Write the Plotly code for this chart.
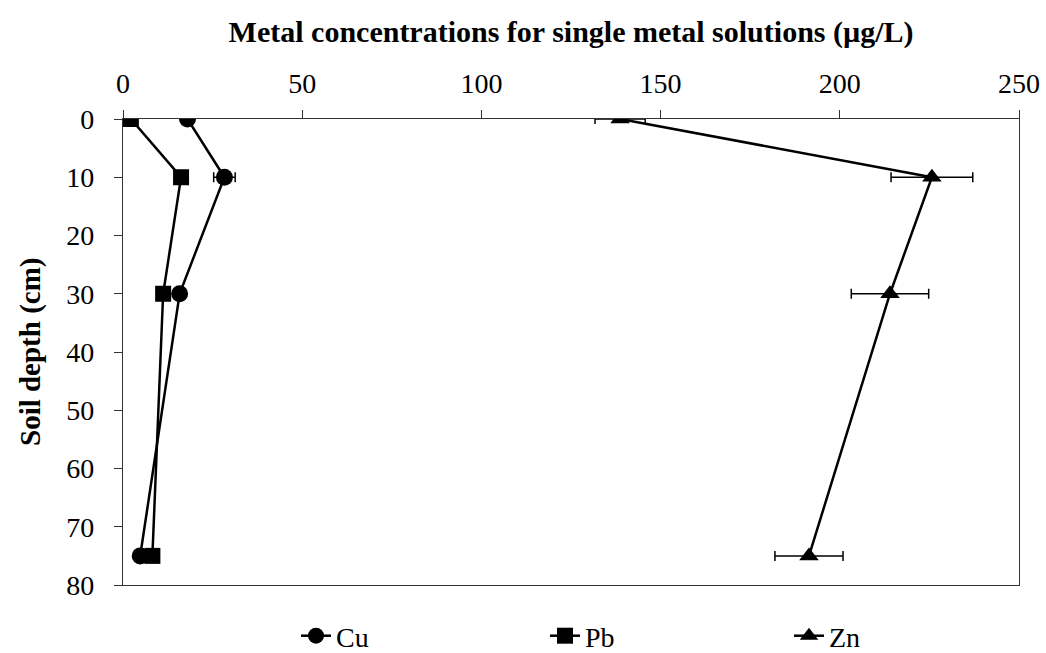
import plotly.graph_objects as go

depth = [0, 10, 30, 75]
cu = [18.0, 28.3, 15.8, 4.8]
pb = [2.2, 16.2, 11.2, 8.2]
zn = [138.7, 225.7, 214.0, 191.4]
cu_err = [0, 3.0, 0, 0]
zn_err = [7.0, 11.4, 10.8, 9.5]
x_ticks = [0, 50, 100, 150, 200, 250]
y_ticks = [0, 10, 20, 30, 40, 50, 60, 70, 80]

FONT = "Liberation Serif"
W, H = 1046, 653
L, R, T, B = 123, 27, 119, 68

fig = go.Figure()

def add_series(name, xs, symbol, legend, err=None):
    fig.add_trace(go.Scatter(
        x=xs, y=depth, name=name, mode="lines+markers", legend=legend,
        line=dict(color="black", width=2.5),
        marker=dict(symbol=symbol, size=17 if symbol != "square" else 16, color="black"),
        error_x=dict(type="data", array=err, visible=True,
                     color="black", thickness=1.5, width=5) if err is not None else None,
    ))

add_series("Cu", cu, "circle", "legend", cu_err)
add_series("Pb", pb, "square", "legend2")
add_series("Zn", zn, "triangle-up", "legend3", zn_err)

axis_common = dict(
    showline=True, mirror=True, linecolor="#333", linewidth=1.3,
    ticks="outside", ticklen=8, tickcolor="#333", tickwidth=1.3,
    showgrid=False, zeroline=False,
    tickfont=dict(family=FONT, size=28, color="black"),
)

def legend_at(px):
    return dict(x=px / W, xref="container", xanchor="left",
                y=1 - 636 / H, yref="container", yanchor="middle",
                font=dict(family=FONT, size=28, color="black"),
                bgcolor="rgba(0,0,0,0)", borderwidth=0)

plot_w = W - L - R

fig.update_layout(
    width=W, height=H,
    paper_bgcolor="white", plot_bgcolor="white",
    margin=dict(l=L, r=R, t=T, b=B, autoexpand=False),
    font=dict(family=FONT, color="black"),
    title=dict(text="<b>Metal concentrations for single metal solutions (µg/L)</b>",
               x=0.546, xanchor="center", y=1 - 31 / H, yanchor="middle",
               font=dict(family=FONT, size=30, color="black")),
    xaxis=dict(range=[0, 250], tickvals=x_ticks, side="top", ticklabelstandoff=6,
               **axis_common),
    yaxis=dict(range=[80, 0], tickvals=y_ticks, ticklabelstandoff=14,
               **axis_common),
    legend=legend_at(296),
    legend2=legend_at(545),
    legend3=legend_at(789),
    showlegend=True,
    annotations=[dict(
        text="<b>Soil depth (cm)</b>", textangle=-90,
        xref="paper", x=(30 - L) / plot_w, xanchor="center",
        yref="paper", y=0.5, yanchor="middle", showarrow=False,
        font=dict(family=FONT, size=29, color="black"),
    )],
)

fig.write_html("out.html")
